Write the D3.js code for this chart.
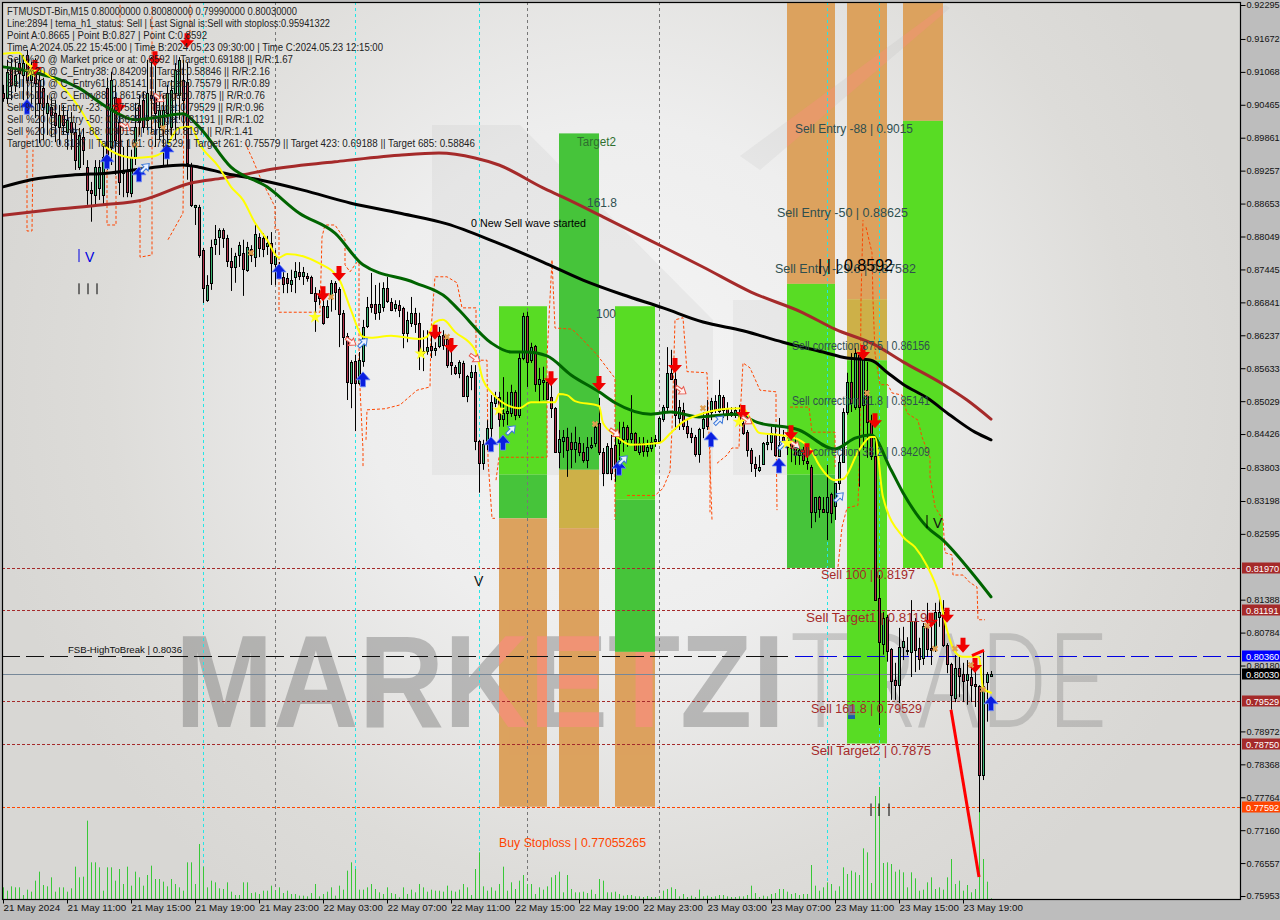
<!DOCTYPE html>
<html>
<head>
<meta charset="utf-8">
<script src="https://cdn.jsdelivr.net/npm/d3@7"></script>
<style>
  html, body { margin: 0; padding: 0; background: #bdbdbd; }
  svg { display: block; }
  text { font-family: "Liberation Sans", Arial, sans-serif; }
</style>
</head>
<body>
<svg id="chart" width="1280" height="920"></svg>
<script>
// prices below are in 1/10000
const opens = [9068,9059,9116,9083,9123,9101,9138,9092,9123,9092,
  9077,9031,9042,9031,9006,9028,8997,9015,8997,8932,
  8987,8932,8890,8881,8894,8881,9077,8969,9061,9015,
  8921,8927,8885,8951,9046,9055,9019,9064,9061,9006,
  9006,9031,9006,9068,9064,9092,9088,8936,8859,8859,
  8780,8688,8720,8791,8804,8817,8802,8760,8749,8771,
  8775,8744,8782,8767,8804,8802,8788,8793,8754,8749,
  8731,8729,8718,8731,8740,8733,8733,8731,8701,8698,
  8677,8657,8698,8720,8709,8665,8623,8536,8577,8536,
  8577,8641,8681,8681,8667,8677,8711,8685,8674,8679,
  8674,8628,8646,8665,8646,8595,8595,8604,8597,8604,
  8624,8617,8575,8566,8555,8573,8512,8547,8556,8430,
  8390,8424,8454,8500,8511,8470,8481,8481,8520,8478,
  8582,8659,8578,8604,8534,8538,8538,8511,8490,8410,
  8430,8437,8428,8415,8426,8410,8395,8419,8426,8463,
  8410,8371,8417,8423,8426,8434,8456,8434,8445,8410,
  8426,8412,8417,8430,8430,8470,8492,8555,8544,8472,
  8487,8457,8445,8437,8406,8454,8483,8483,8503,8485,
  8511,8490,8483,8478,8479,8463,8446,8413,8388,8377,
  8388,8424,8428,8441,8402,8437,8419,8428,8417,8404,
  8413,8393,8382,8300,8327,8305,8300,8333,8311,8353,
  8391,8483,8538,8492,8588,8496,8523,8465,8402,8142,
  8058,8107,8048,7992,7982,8052,8047,8043,8100,8050,
  8032,8091,8050,8052,8107,8116,8056,8021,7959,8014,
  8003,7992,7997,7984,7981,7817,7988,7999];
const closes = [9059,9107,9083,9101,9105,9123,9092,9107,9086,9050,
  9042,9050,9028,9009,9028,9009,9019,8997,8945,8991,
  8964,8890,8885,8932,8932,8951,8951,9092,8982,8905,
  8927,8887,8951,9006,9015,9006,9068,9059,9031,9037,
  9037,9068,9074,9110,9129,9055,8940,8863,8863,8771,
  8711,8716,8786,8800,8817,8802,8760,8749,8769,8789,
  8745,8786,8771,8810,8784,8782,8793,8756,8769,8744,
  8718,8720,8725,8742,8733,8740,8729,8701,8687,8692,
  8646,8677,8720,8703,8663,8621,8538,8575,8536,8578,
  8639,8676,8676,8665,8681,8711,8687,8670,8681,8670,
  8628,8652,8665,8644,8595,8591,8602,8597,8601,8622,
  8606,8569,8569,8555,8575,8512,8549,8556,8430,8390,
  8424,8454,8501,8511,8470,8481,8485,8520,8478,8582,
  8659,8575,8602,8534,8544,8542,8507,8490,8410,8434,
  8437,8413,8415,8428,8410,8395,8419,8423,8456,8410,
  8371,8421,8371,8382,8434,8456,8434,8445,8413,8426,
  8412,8419,8428,8434,8472,8492,8555,8544,8478,8492,
  8457,8445,8437,8406,8452,8470,8457,8503,8487,8514,
  8487,8481,8478,8487,8463,8445,8413,8390,8380,8382,
  8426,8428,8445,8404,8423,8423,8432,8417,8404,8413,
  8395,8390,8300,8327,8305,8300,8327,8298,8353,8391,
  8483,8538,8500,8591,8492,8582,8465,8402,8138,8061,
  8105,8045,7990,7982,8052,8063,8045,8100,8047,8030,
  8091,8048,8047,8116,8116,8056,8021,7964,8014,7999,
  7990,8003,7982,7981,7817,7981,8003,8003];
const highs = [9083,9129,9132,9129,9138,9138,9147,9125,9132,9107,
  9096,9064,9061,9055,9046,9046,9037,9033,9013,9004,
  9004,8945,8905,8945,8945,8976,9096,9107,9083,9041,
  8969,8982,8964,9050,9064,9070,9129,9134,9129,9055,
  9064,9083,9092,9123,9134,9129,9125,8940,8863,8863,
  8784,8734,8799,8826,8820,8820,8808,8784,8775,8795,
  8799,8795,8789,8826,8811,8811,8806,8813,8780,8758,
  8740,8738,8744,8758,8758,8749,8738,8733,8712,8707,
  8688,8688,8725,8723,8712,8670,8628,8578,8588,8593,
  8652,8694,8738,8716,8720,8721,8731,8692,8688,8688,
  8676,8667,8694,8674,8665,8633,8633,8624,8611,8639,
  8633,8624,8597,8569,8578,8577,8551,8569,8569,8432,
  8432,8468,8514,8520,8520,8547,8520,8533,8523,8591,
  8665,8667,8610,8606,8564,8566,8542,8545,8492,8450,
  8450,8454,8445,8456,8437,8426,8437,8437,8465,8509,
  8417,8426,8441,8441,8465,8465,8459,8514,8446,8437,
  8437,8432,8437,8441,8474,8496,8602,8597,8556,8505,
  8500,8468,8454,8441,8454,8483,8505,8509,8514,8542,
  8514,8501,8492,8492,8496,8474,8450,8417,8401,8404,
  8428,8441,8456,8456,8472,8450,8446,8441,8437,8419,
  8419,8413,8386,8327,8329,8327,8386,8335,8353,8404,
  8490,8555,8591,8600,8593,8588,8575,8478,8432,8184,
  8116,8111,8050,8023,8087,8089,8070,8138,8105,8069,
  8096,8133,8089,8133,8140,8138,8059,8023,8037,8037,
  8023,8028,8023,8028,7982,8047,8006,8008];
const lows = [9052,9048,9055,9070,9077,9055,9041,9046,9022,8976,
  8982,8991,8987,8978,8973,8991,8964,8964,8927,8927,
  8936,8863,8832,8863,8872,8863,8927,8936,8918,8881,
  8877,8877,8877,8936,8991,8995,9000,8995,8969,8982,
  8936,8936,8982,8982,9019,9000,8909,8859,8826,8766,
  8683,8685,8707,8771,8771,8784,8749,8705,8720,8749,
  8696,8740,8758,8749,8767,8767,8771,8716,8716,8734,
  8701,8701,8703,8701,8725,8716,8722,8700,8630,8679,
  8643,8655,8667,8670,8602,8606,8505,8490,8448,8533,
  8566,8637,8665,8652,8652,8667,8683,8668,8667,8657,
  8600,8611,8639,8628,8560,8558,8588,8582,8586,8600,
  8597,8564,8551,8551,8545,8511,8501,8523,8413,8335,
  8377,8413,8432,8492,8456,8456,8459,8474,8468,8472,
  8578,8529,8573,8520,8501,8505,8505,8472,8408,8380,
  8399,8364,8380,8390,8402,8390,8380,8415,8419,8404,
  8347,8369,8358,8355,8395,8410,8419,8426,8413,8404,
  8401,8401,8410,8419,8426,8465,8481,8542,8450,8450,
  8450,8435,8426,8401,8390,8435,8450,8468,8481,8481,
  8472,8468,8474,8472,8459,8441,8401,8373,8364,8373,
  8386,8413,8413,8401,8401,8419,8404,8391,8386,8386,
  8386,8377,8270,8281,8289,8298,8248,8279,8285,8340,
  8390,8478,8483,8487,8346,8413,8399,8395,8138,7909,
  8038,8025,7955,7955,7949,8028,8037,7997,8006,8010,
  8019,8034,8019,8043,8089,8052,8004,7937,7951,7960,
  7951,7946,7951,7942,7749,7808,7915,7997];
const volumes = [35,25,38,35,35,12,28,22,55,82,
  42,38,65,22,35,35,22,32,97,65,
  67,235,110,110,95,25,95,95,55,90,
  45,97,40,82,65,40,72,100,60,60,
  52,38,60,45,35,25,110,110,45,165,
  97,35,55,50,32,30,50,22,12,12,
  50,50,18,20,15,25,25,40,25,35,
  18,25,15,15,10,10,8,18,45,8,
  15,22,35,10,40,28,85,110,90,28,
  28,35,45,30,20,15,35,18,15,5,
  35,15,28,20,45,35,22,28,25,25,
  22,40,25,22,28,45,35,12,90,140,
  38,25,35,25,45,97,25,50,30,55,
  72,45,45,15,35,28,38,65,72,82,
  20,72,30,20,20,22,18,28,15,60,
  55,20,20,22,15,10,12,12,8,8,
  6,9,6,6,8,25,30,35,30,8,
  15,6,10,6,28,8,10,6,8,12,
  12,8,6,6,8,8,12,40,18,6,
  10,8,15,18,30,30,22,15,18,12,
  15,15,102,40,25,35,50,45,25,38,
  95,75,85,80,72,152,140,48,309,336,
  108,110,105,82,88,80,35,80,62,25,
  28,50,65,30,35,28,65,120,45,55,
  25,42,20,30,262,120,52,2];

const yellowBars = [0,4,6,10,14,19,24,27,33,37,40,44,47,49,54,57,60,63,66,69,71,79,84,87,90,92,97,104,106,108,110,113,118,120,122,129,132,138,139,141,143,149,150,153,157,164,167,170,174,181,185,187,189,194,199,202,204,208,210,214,217,218,220,225,228,231,234,236,238,240,244,245,247];
const yellowLine = [9140,9142,9123,9107,9086,9042,8982,8962,8949,8951,8960,9004,9006,8976,8932,8896,8872,8830,8799,8766,8773,8756,8727,8670,8621,8619,8623,8617,8621,8648,8652,8630,8597,8542,8520,8490,8501,8501,8516,8514,8503,8494,8463,8441,8423,8426,8445,8465,8478,8489,8490,8468,8445,8441,8432,8413,8386,8358,8360,8413,8437,8437,8327,8254,8235,8201,8148,8083,8043,8034,8034,7977,7968];
const greenBars = [0,7,19,26,33,39,45,49,57,66,74,83,90,103,111,114,122,127,131,136,142,149,153,162,167,174,183,189,199,208,213,217,222,225,231,235,242,247];
const greenLine = [9116,9107,9077,9042,9019,9024,9030,9006,8932,8896,8848,8811,8753,8720,8692,8670,8610,8593,8593,8586,8551,8520,8500,8479,8483,8474,8479,8463,8450,8415,8435,8441,8377,8335,8272,8248,8190,8144];
const blackBars = [0,7,18,26,37,45,49,56,64,75,87,99,111,123,135,145,155,165,175,185,195,205,211,217,221,225,231,237,243,247];
const blackLine = [8896,8909,8918,8921,8931,8936,8932,8920,8909,8890,8866,8848,8828,8795,8758,8725,8698,8674,8648,8632,8611,8593,8582,8578,8556,8534,8509,8476,8446,8432];
const maroonBars = [0,12,25,35,47,55,60,66,83,99,109,118,124,135,140,150,162,175,187,200,208,218,225,235,241,247];
const maroonLine = [8844,8854,8863,8872,8903,8912,8918,8927,8942,8954,8958,8949,8936,8894,8877,8841,8797,8749,8703,8665,8635,8606,8575,8534,8505,8470];

// dashed stop lines, one pair of lists per broken piece
const stopBars = [
  [6,6,7.25,7.5], [26,26,28.25,28.25], [34.25,34.25,37.25,37.25], [41.25,45,45.25,45.25],
  [29.25,29.25], [46.75,46.75],
  [60.5,62.5,64.25,68,68,69,69,79.25,79.75,80.5,83,85.5,85.5,86.75,88.5],
  [89,89,90,90],
  [90.75,91,95.5,99.25,103.5,106.75,107,108,111,113.5,114.75,118.25,118.25,121,121.25,122.25,123],
  [123.25,124,136,136,137.25,138,142.25,144.25,148.5,151,153,153],
  [156,163,165,166.75,167.25,168,170,171,176,176.25,177.25],
  [178.5,181,182.25,184,184.25,185,186.75,189.25,193.25,193.25,193.5],
  [196.75,201.5,202.25,208,208],
  [208.75,209.75,211,213.75,214.25,214.5,215],
  [215.75,217.25,217.5,218,219.25,221.25,222.25,224.75,226,228.75,229.75,231.75,231.75,233,235,235.5,237.25,237.5,240,241.75,243.5,243.75,245.5],
  [176.75,176.75]
];
const stopPrices = [
  [9000,8815,8815,8964], [9000,8826,8826,8918], [8872,8767,8771,9230], [8799,8848,9055,8995],
  [9230,9184], [9230,9165],
  [8977,8945,8914,8859,8817,8817,8666,8666,8804,8826,8826,8799,8753,8740,8758],
  [8756,8566,8413,8382],
  [8432,8487,8489,8496,8523,8529,8633,8731,8731,8720,8674,8674,8578,8578,8395,8288,8288],
  [8358,8400,8400,8584,8762,8637,8635,8621,8588,8564,8545,8285],
  [8330,8330,8343,8374,8452,8652,8656,8557,8555,8500,8285],
  [8389,8404,8417,8417,8472,8573,8564,8523,8520,8472,8303],
  [8492,8492,8446,8446,8382],
  [8199,8272,8307,8312,8432,8688,8835],
  [8822,8775,8688,8591,8533,8533,8518,8514,8481,8468,8437,8400,8364,8309,8285,8225,8221,8184,8184,8170,8162,8102,8102],
  [8432,8299]
];

const sellArrowBars = [8,29,38,46,80,84,108,112,137,149,168,185,197,201,215,218,232,236,240,243];
const sellArrowPrices = [9116,9046,9132,9165,8701,8738,8630,8606,8545,8536,8569,8483,8446,8413,8593,8468,8102,8111,8056,8019];
const buyArrowBars = [6,26,34,41,69,90,122,125,154,177,194,247];
const buyArrowPrices = [9042,8942,8918,8960,8740,8542,8423,8426,8380,8432,8384,7948];
const openBuyBars = [35.5,90,127,155,179,195,209];
const openBuyPrices = [8931,8610,8450,8395,8468,8423,8327];
const openSellBars = [30.5,39,87,118,153,169.5,186,198];
const openSellPrices = [9006,9059,8612,8582,8445,8523,8468,8423];
const crossBars = [33,40,62,82,111,148,175,216,231,233,238,242,245];
const crossPrices = [8973,9004,8775,8694,8621,8461,8490,8518,8091,8049,8049,8019,7974];
const starBars = [7,78,104.5,124,184,196];
const starPrices = [9107,8657,8590,8487,8465,8426];

const cyanBars = [50,88,119,206,219];
const greyBars = [68,131,164];

const levelPrices = [0.8197,0.81191,0.79529,0.7875];
const stopLevel = 0.77592;
const breakLevel = 0.8036;
const lastPrice = 0.8003;

const boxFirst = [124,139,153,196,211,225];
const boxLast = [136,149,163,208,221,235];
const zoneBox = [0,0,0, 1,1,1, 2,2,2, 3,3,3, 4,4,4, 5,5];
const zoneTop = [8677,8368,8288, 8994,8377,8270, 8677,8322,8043, 9233,8718,8368, 9233,8690,8578, 9233,9017];
const zoneBottom = [8368,8288,7759, 8377,8270,7759, 8322,8043,7759, 8718,8368,8197, 8690,8578,7875, 9017,8197];
const zoneKind = ["green","dark","orange", "dark","yellow","orange", "green","dark","orange", "orange","green","dark", "orange","yellow","green", "orange","green"];

const priceTicks = [0.92295,0.91672,0.91068,0.90465,0.89861,0.89257,0.88653,0.88049,0.87445,0.86841,0.86237,0.85633,0.85029,0.84426,0.83803,0.83198,0.82595,0.81388,0.80784,0.8018,0.78972,0.78368,0.77764,0.7716,0.76557,0.75953];
const timeTicks = d3.range(0, 248, 16);
const timeLabels = ["21 May 2024","21 May 11:00","21 May 15:00","21 May 19:00","21 May 23:00","22 May 03:00","22 May 07:00","22 May 11:00","22 May 15:00","22 May 19:00","22 May 23:00","23 May 03:00","23 May 07:00","23 May 11:00","23 May 15:00","23 May 19:00"];

const commentLines = [
  "FTMUSDT-Bin,M15  0.80000000 0.80080000 0.79990000 0.80030000",
  "Line:2894 | tema_h1_status: Sell | Last Signal is:Sell with stoploss:0.95941322",
  "Point A:0.8665 | Point B:0.827 | Point C:0.8592",
  "Time A:2024.05.22 15:45:00 | Time B:2024.05.23 09:30:00 | Time C:2024.05.23 12:15:00",
  "Sell %20 @ Market price or at: 0.8592 || Target:0.69188 || R/R:1.67",
  "Sell %20 @ C_Entry38: 0.84209 || Target:0.58846 || R/R:2.16",
  "Sell %20 @ C_Entry61: 0.85141 || Target:0.75579 || R/R:0.89",
  "Sell %10 @ C_Entry88: 0.86156 || Target:0.7875 || R/R:0.76",
  "Sell %10 @ Entry -23: 0.87582 || Target:0.79529 || R/R:0.96",
  "Sell %20 @ Entry -50: 0.88625 || Target:0.81191 || R/R:1.02",
  "Sell %20 @ Entry -88: 0.9015 || Target:0.8197 || R/R:1.41",
  "Target100: 0.8197 || Target 161: 0.79529 || Target 261: 0.75579 || Target 423: 0.69188 || Target 685: 0.58846"
];
const commentWidths = [290,323,200,376,286,263,263,258,257,257,246,468];

const noteTexts = ["Sell Entry -88 | 0.9015","Target2","161.8","0 New Sell wave started","Sell Entry -50 | 0.88625","Sell Entry -29.6 | 0.87582","100","Sell correction 87.5 | 0.86156","Sell correction 61.8 | 0.85141","Sell correction 38.2 | 0.84209","Sell 100 | 0.8197","Sell Target1 | 0.81191","Sell 161.8 | 0.79529","Sell Target2 | 0.7875","Buy Stoploss | 0.77055265","FSB-HighToBreak | 0.8036","| | | 0.8592"];
const noteBars = [198,143.5,146,117,193.5,193,148.25,197.25,197.25,197.25,204.5,200.75,202,202,124,16.25,203.75];
const notePrices = [8994,8971,8859,8822,8841,8738,8655,8597,8496,8402,8177,8098,7931,7854,7685,8041,8742];
const noteKind = ["slate","green","slate","black","slate","slate","slate","slate","slate","slate","brown","brown","brown","brown","stop","small","big"];
const noteWidths = [118,39,30,115,131,141,20,138,138,138,94,129,111,120,147,114,75];

const noteStyle = {
  slate: ["#2f4f4f", 12], green: ["#2f6f2f", 12], black: ["#000", 10.5], brown: ["#a52a2a", 12],
  stop: ["#ff4500", 12], small: ["#111", 9.5], big: ["#000", 17]
};
const zoneColor = { green: "#58dc24", dark: "#46c43a", orange: "#dca25e", yellow: "#cdb048" };

const svg = d3.select("#chart");
const plotL = 2, plotR = 1240, plotT = 2, plotB = 899;

const x = d3.scaleLinear().domain([0, 247]).range([3, 991]);
const y = d3.scaleLinear().domain([0.92295, 0.75953]).range([5, 896]);
const py = p => y(p / 10000);
const vol = d3.scaleLinear().domain([0, 300]).range([plotB, plotB - 100]);

const defs = svg.append("defs");
const glow = defs.append("radialGradient").attr("id", "paper")
  .attr("gradientUnits", "userSpaceOnUse").attr("cx", 620).attr("cy", 380).attr("r", 640);
glow.append("stop").attr("offset", "0").attr("stop-color", "#f4f4f4");
glow.append("stop").attr("offset", "0.4").attr("stop-color", "#eeeeee");
glow.append("stop").attr("offset", "0.8").attr("stop-color", "#dddcd9");
glow.append("stop").attr("offset", "1").attr("stop-color", "#d8d7d4");

defs.append("clipPath").attr("id", "plot").append("rect")
  .attr("x", plotL).attr("y", plotT).attr("width", plotR - plotL).attr("height", plotB - plotT);

const orangeClip = defs.append("clipPath").attr("id", "orangeZones");
zoneKind.forEach((k, i) => {
  if (k !== "orange") return;
  orangeClip.append("rect")
    .attr("x", x(boxFirst[zoneBox[i]]))
    .attr("width", x(boxLast[zoneBox[i]]) - x(boxFirst[zoneBox[i]]))
    .attr("y", py(zoneTop[i]))
    .attr("height", py(zoneBottom[i]) - py(zoneTop[i]));
});

svg.append("rect").attr("width", 1280).attr("height", 920).attr("fill", "#bdbdbd");
svg.append("rect").attr("x", plotL).attr("y", plotT).attr("width", plotR - plotL).attr("height", plotB - plotT).attr("fill", "url(#paper)");

const plot = svg.append("g").attr("clip-path", "url(#plot)");

// watermark logo and name
function watermark(g, color, logoAlpha, boldAlpha, thinAlpha) {
  const shapes = [
    "M432,125 L520,125 L713,320 L713,475 L432,475 Z",
    "M733,300 L790,300 L790,475 L733,475 Z",
    "M740,156 L945,5 L950,8 L760,170 Z"
  ];
  shapes.forEach(d => g.append("path").attr("d", d).attr("fill", color).attr("opacity", logoAlpha));
  g.append("text").attr("x", 175).attr("y", 727).attr("font-size", 132).attr("font-weight", 700)
    .attr("textLength", 610).attr("lengthAdjust", "spacingAndGlyphs")
    .attr("fill", color).attr("opacity", boldAlpha).text("MARKETZI");
  g.append("text").attr("x", 790).attr("y", 727).attr("font-size", 132).attr("font-weight", 300)
    .style("font-family", "Roboto, sans-serif")
    .attr("textLength", 316).attr("lengthAdjust", "spacingAndGlyphs")
    .attr("fill", color).attr("opacity", thinAlpha).text("TRADE");
}
watermark(plot.append("g"), "#6e6e6e", 0.07, 0.4, 0.28);

plot.append("g").selectAll("rect").data(zoneKind).join("rect")
  .attr("x", (k, i) => x(boxFirst[zoneBox[i]]))
  .attr("width", (k, i) => x(boxLast[zoneBox[i]]) - x(boxFirst[zoneBox[i]]))
  .attr("y", (k, i) => py(zoneTop[i]))
  .attr("height", (k, i) => py(zoneBottom[i]) - py(zoneTop[i]))
  .attr("fill", k => zoneColor[k]);

const tint = plot.append("g").attr("clip-path", "url(#orangeZones)");
watermark(tint, "#f5907a", 0.45, 0.8, 0.5);

function vline(bar, color) {
  plot.append("line").attr("x1", x(bar) + 0.5).attr("x2", x(bar) + 0.5)
    .attr("y1", plotT).attr("y2", plotB)
    .attr("stroke", color).attr("stroke-dasharray", "3,3");
}
cyanBars.forEach(b => vline(b, "#22e6e6"));
greyBars.forEach(b => vline(b, "#777"));

function hline(price, color, dash) {
  plot.append("line").attr("x1", plotL).attr("x2", plotR)
    .attr("y1", Math.round(y(price)) + 0.5).attr("y2", Math.round(y(price)) + 0.5)
    .attr("stroke", color).attr("stroke-dasharray", dash);
}
levelPrices.forEach(p => hline(p, "#a52a2a", "3,2"));
hline(stopLevel, "#ff4500", "3,2");
hline(lastPrice, "#778899", null);
plot.append("line").attr("x1", plotL).attr("x2", x(197))
  .attr("y1", Math.round(y(breakLevel)) + 0.5).attr("y2", Math.round(y(breakLevel)) + 0.5)
  .attr("stroke", "#111").attr("stroke-dasharray", "18,6");
plot.append("line").attr("x1", x(198)).attr("x2", plotR)
  .attr("y1", Math.round(y(breakLevel)) + 0.5).attr("y2", Math.round(y(breakLevel)) + 0.5)
  .attr("stroke", "#0000e0").attr("stroke-dasharray", "18,6");

// volumes
plot.append("g").selectAll("line").data(volumes).join("line")
  .attr("x1", (d, i) => x(i) + 0.5).attr("x2", (d, i) => x(i) + 0.5)
  .attr("y1", vol(0)).attr("y2", d => vol(d))
  .attr("stroke", "#38c838");

// stop lines
const stopPath = d3.line().x(d => x(d[0])).y(d => py(d[1]));
plot.append("g").selectAll("path").data(stopBars).join("path")
  .attr("d", (bars, s) => stopPath(bars.map((b, j) => [b, stopPrices[s][j]])))
  .attr("fill", "none").attr("stroke", "#ff4500").attr("stroke-dasharray", "3,2");

// candles
const candles = plot.append("g").selectAll("g").data(opens).join("g");
candles.append("line")
  .attr("x1", (d, i) => x(i) + 0.5).attr("x2", (d, i) => x(i) + 0.5)
  .attr("y1", (d, i) => py(highs[i])).attr("y2", (d, i) => py(lows[i]))
  .attr("stroke", "#000");
candles.append("rect")
  .attr("x", (d, i) => x(i) - 0.5).attr("width", 2)
  .attr("y", (d, i) => Math.round(py(Math.max(d, closes[i]))) + 0.5)
  .attr("height", (d, i) => Math.max(1, Math.round(Math.abs(py(d) - py(closes[i])))))
  .attr("fill", (d, i) => closes[i] >= d ? "#3cb371" : "#b0304a")
  .attr("stroke", "#000").attr("shape-rendering", "crispEdges");

function maLine(bars, values, color, width) {
  const line = d3.line().x(d => x(d[0])).y(d => py(d[1])).curve(d3.curveMonotoneX);
  plot.append("path").attr("d", line(bars.map((b, i) => [b, values[i]])))
    .attr("fill", "none").attr("stroke", color).attr("stroke-width", width)
    .attr("stroke-linejoin", "round").attr("stroke-linecap", "round");
}
maLine(maroonBars, maroonLine, "#a52a2a", 3);
maLine(blackBars, blackLine, "#000", 3);
maLine(greenBars, greenLine, "#006400", 3);
maLine(yellowBars, yellowLine, "#ffff00", 2);

// impulse legs of the wave
const legBars = [237, 244, 242.25, 245.25];
const legPrices = [7937, 7630, 8036, 8046];
plot.append("line").attr("x1", x(legBars[0])).attr("y1", py(legPrices[0])).attr("x2", x(legBars[1])).attr("y2", py(legPrices[1]))
  .attr("stroke", "#ff0000").attr("stroke-width", 3);
plot.append("line").attr("x1", x(legBars[2])).attr("y1", py(legPrices[2])).attr("x2", x(legBars[3])).attr("y2", py(legPrices[3]))
  .attr("stroke", "#ff0000").attr("stroke-width", 3);

// signal marks
const solidUp = "M0,-8 L7,0 L2.5,0 L2.5,7 L-2.5,7 L-2.5,0 L-7,0 Z";
const solidDown = "M0,8 L7,0 L2.5,0 L2.5,-7 L-2.5,-7 L-2.5,0 L-7,0 Z";
const hollow = "M0,-6 L4.5,0 L1.5,0 L1.5,6 L-1.5,6 L-1.5,0 L-4.5,0 Z";
function marks(bars, prices, build) {
  const g = plot.append("g");
  bars.forEach((b, i) => build(g.append("path").attr("transform", "translate(" + x(b) + "," + py(prices[i]) + ")")));
}
marks(sellArrowBars, sellArrowPrices, p => p.attr("d", solidDown).attr("fill", "#f00000"));
marks(buyArrowBars, buyArrowPrices, p => p.attr("d", solidUp).attr("fill", "#0a1ee0").attr("stroke", "#6f8df5").attr("stroke-width", 0.8));
marks(openBuyBars, openBuyPrices, p => p.attr("d", hollow).attr("fill", "#eaf2ff").attr("stroke", "#3c78d8")
  .attr("transform", p.attr("transform") + " rotate(45)"));
marks(openSellBars, openSellPrices, p => p.attr("d", hollow).attr("fill", "#fff0ee").attr("stroke", "#e8584c")
  .attr("transform", p.attr("transform") + " rotate(125)"));
marks(crossBars, crossPrices, p => p.attr("d", d3.symbol(d3.symbolCross, 26)()).attr("fill", "#e0a050")
  .attr("transform", p.attr("transform") + " rotate(45)"));
marks(starBars, starPrices, p => p.attr("d", d3.symbol(d3.symbolStar, 55)()).attr("fill", "#ffff20"));

// wave counters
const tickBars = [19,21.25,23.5,217,219,221.5,231];
const tickHigh = [8719,8719,8719,7765,7765,7765,8294];
const tickLow = [8699,8699,8699,7742,7742,7742,8270];
plot.append("g").selectAll("line").data(tickBars).join("line")
  .attr("x1", d => x(d)).attr("x2", d => x(d))
  .attr("y1", (d, i) => py(tickHigh[i])).attr("y2", (d, i) => py(tickLow[i]))
  .attr("stroke", "#000");
plot.append("line").attr("x1", x(19)).attr("x2", x(19)).attr("y1", py(8782)).attr("y2", py(8758)).attr("stroke", "#0000e0");
plot.append("text").attr("x", x(20.5)).attr("y", py(8758)).attr("font-size", 14).attr("fill", "#0000e0").text("V");
plot.append("text").attr("x", x(117.75)).attr("y", py(8164)).attr("font-size", 14).attr("fill", "#111").text("V");
plot.append("text").attr("x", x(232.5)).attr("y", py(8270)).attr("font-size", 14).attr("fill", "#111").text("V");

// small grey flag at the low box
plot.append("rect").attr("x", x(211.25)).attr("width", 7)
  .attr("y", py(7946)).attr("height", py(7920) - py(7946)).attr("fill", "#7b7f88");
plot.append("rect").attr("x", x(211.25)).attr("width", 7)
  .attr("y", py(7927)).attr("height", py(7920) - py(7927)).attr("fill", "#1a5fa8");

// notes on the chart
plot.append("g").selectAll("text").data(noteTexts).join("text")
  .attr("x", (d, i) => x(noteBars[i])).attr("y", (d, i) => py(notePrices[i]))
  .attr("font-size", (d, i) => noteStyle[noteKind[i]][1])
  .attr("fill", (d, i) => noteStyle[noteKind[i]][0])
  .attr("textLength", (d, i) => noteWidths[i]).attr("lengthAdjust", "spacingAndGlyphs")
  .text(d => d);

svg.append("g").selectAll("text").data(commentLines).join("text")
  .attr("x", 7).attr("y", (d, i) => 14.5 + i * 12)
  .attr("font-size", 10).attr("fill", "#222")
  .attr("textLength", (d, i) => commentWidths[i]).attr("lengthAdjust", "spacingAndGlyphs")
  .text(d => d);

// frame and axes
const yAxis = d3.axisRight(y).tickValues(priceTicks).tickSize(5).tickPadding(1).tickFormat(d => d.toFixed(5));
const xAxis = d3.axisBottom(x).tickValues(timeTicks).tickSize(4).tickPadding(1).tickFormat((d, i) => timeLabels[i]);

svg.append("rect").attr("x", plotL + 0.5).attr("y", plotT + 0.5)
  .attr("width", plotR - plotL).attr("height", plotB - plotT)
  .attr("fill", "none").attr("stroke", "#000").attr("stroke-width", 1.2);

const ya = svg.append("g").attr("transform", "translate(" + (plotR + 0.5) + ",0)").call(yAxis);
ya.select(".domain").remove();
ya.selectAll("line").attr("stroke", "#000");
ya.selectAll("text").attr("font-size", 9.2).attr("fill", "#111").style("font-family", '"Liberation Sans", Arial, sans-serif');

const xa = svg.append("g").attr("transform", "translate(0," + (plotB + 0.5) + ")").call(xAxis);
xa.select(".domain").remove();
xa.selectAll("line").attr("stroke", "#000");
xa.selectAll("text").attr("text-anchor", "start").attr("font-size", 9.8).attr("fill", "#111")
  .style("font-family", '"Liberation Sans", Arial, sans-serif');

// price flags on the axis
const flagPrices = [0.8197,0.81191,0.8036,0.8003,0.79529,0.7875,0.77592];
const flagKind = ["maroon","maroon","blue","black","maroon","maroon","orange"];
const flagColor = { maroon: "#a52a2a", blue: "#0000ff", black: "#000", orange: "#ff4500" };
const flags = svg.append("g").selectAll("g").data(flagPrices).join("g")
  .attr("transform", d => "translate(" + (plotR + 2) + "," + Math.round(y(d)) + ")");
flags.append("rect").attr("y", -5.5).attr("width", 40).attr("height", 11)
  .attr("fill", (d, i) => flagColor[flagKind[i]]);
flags.append("text").attr("x", 4).attr("y", 3.5).attr("font-size", 9.2).attr("fill", "#fff")
  .text(d => d.toFixed(5));
</script>
</body>
</html>
